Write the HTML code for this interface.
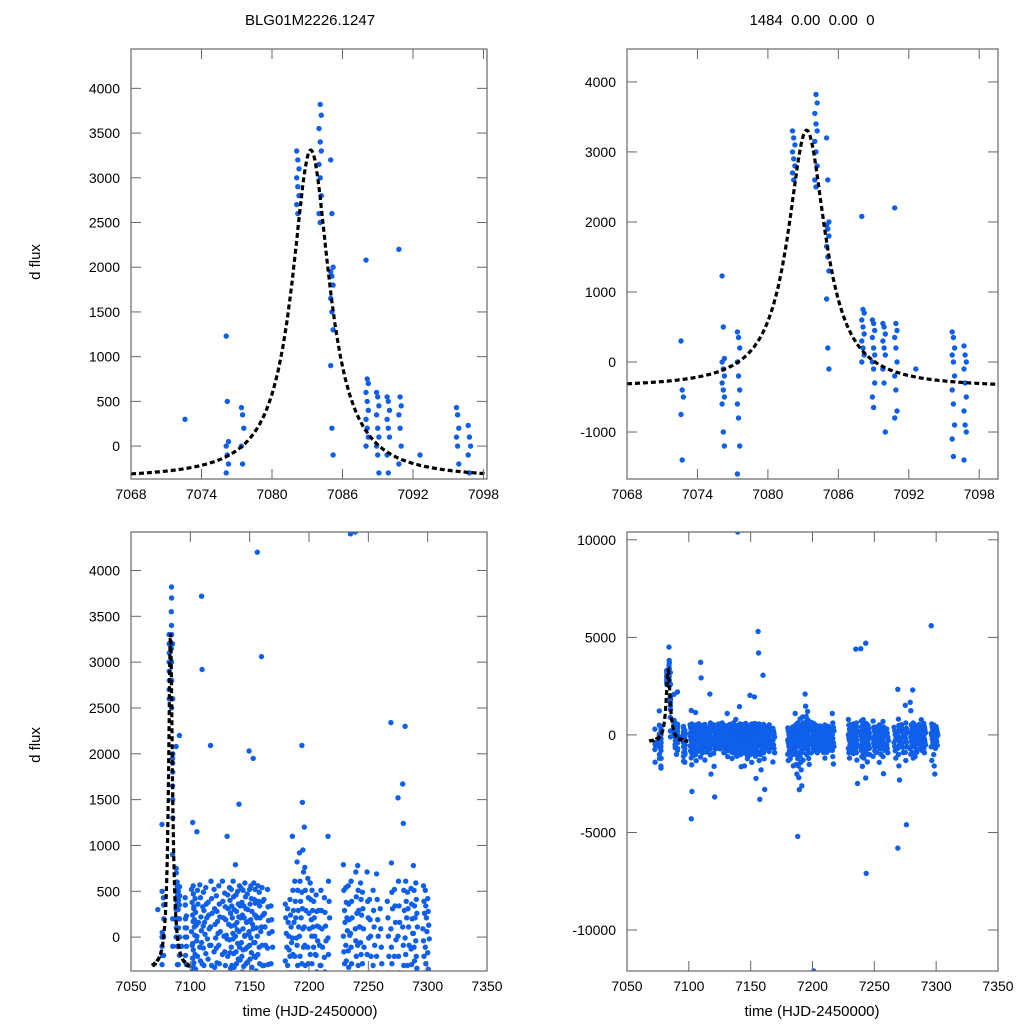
<!DOCTYPE html>
<html><head><meta charset="utf-8"><style>
html,body{margin:0;padding:0;background:#fff;overflow:hidden;width:1024px;height:1024px;}
svg{display:block;font-family:"Liberation Sans",sans-serif;}
</style></head><body>
<svg id="chart" width="1024" height="1024" viewBox="0 0 1024 1024" xmlns="http://www.w3.org/2000/svg">
<rect width="1024" height="1024" fill="#fff"/>
<text x="310" y="25" font-size="15" text-anchor="middle">BLG01M2226.1247</text>
<text x="812" y="25" font-size="15" text-anchor="middle" xml:space="preserve">1484  0.00  0.00  0</text>
<text x="0" y="0" font-size="15" text-anchor="middle" transform="translate(40,262) rotate(-90)">d flux</text>
<text x="0" y="0" font-size="15" text-anchor="middle" transform="translate(40,745) rotate(-90)">d flux</text>
<text x="310" y="1016" font-size="15" text-anchor="middle">time (HJD-2450000)</text>
<text x="812" y="1016" font-size="15" text-anchor="middle">time (HJD-2450000)</text>
</svg>
<script>
// ---- data: nightly clusters (time, fluxes) ----
const nightTimes = [7072.6,7076.1,7077.4,7082.1,7084.0,7085.0,7088.0,7088.9,7089.8,7090.8,7092.6,7095.7,7096.7,
 7101,7102.5,7102,7104,7105.5,7108,7109.5,7111,7113,7115,7117,7120,7122,7124,7127,7129,7131,7133,7134.5,7136,7138,7139.5,7141,7143,7144.5,7146,7148,7149.5,7151,7153,7154.5,7156,7158,7160,7162,7165,7168,
 7180,7182,7184,7186,7188,7190,7192,7194,7196,7199,7201,7202.5,7204,7206,7208,7210,7213,7216,
 7229,7231,7233,7235,7239,7241,7243,7245,7249,7251,7254,7257,7260,7266,7269,7272,7275,7279,7281,7283,7286,7288,7290,7296,7298,7300,7304,7306,7308];
const nightFlux = [
 [300,-400,-500,-750,-1400],
 [1230,500,50,0,-100,-200,-300,-400,-500,-600,-1000,-1200],
 [430,350,200,0,-200,-400,-600,-800,-1200,-1600,-1700],
 [3300,3200,3100,3000,2900,2800,2700,2600],
 [4500,3820,3700,3550,3400,3300,3150,3000,2800,2600,2500],
 [3200,2600,2000,1950,1900,1800,1650,1500,1300,900,200,-100],
 [2080,750,700,600,500,400,300,200,100,0],
 [600,550,450,350,200,100,0,-100,-300,-500,-650],
 [550,500,400,300,200,100,-100,-300,-1000],
 [2200,550,450,350,200,0,-200,-400,-700,-800],
 [-100],
 [430,350,200,100,0,-200,-400,-600,-900,-1100,-1350],
 [230,100,0,-100,-300,-500,-700,-900,-1000,-1400],
 [520,380,240,170,60,-90,-230,-370,-560,-820,-1180,-1530],
 [470,310,190,20,-140,-280,-460,-690,-940],
 [1250,560,330,110,-70,-320,-610,-830,-4300,-2900],
 [420,270,130,-40,-190,-350,-520,-760,-1050],
 [1150,510,360,160,10,-210,-410,-700,-1010,-1320],
 [570,430,220,70,-110,-260,-430,-620,-830],
 [3720,2920,330,120,-60,-290,-480,-720,-1130],
 [490,290,160,30,-120,-310,-470,-650,-910],
 [540,360,210,-20,-180,-390,-610,-880,-1290],
 [380,240,90,-90,-240,-410,-590,-760],
 [2090,610,420,260,110,-90,-310,-520,-730,-1020,-2010],
 [520,310,140,-10,-160,-330,-510,-720,-940,-1610,-3180],
 [450,280,170,40,-120,-280,-470,-680],
 [560,360,220,60,-90,-290,-490,-710],
 [610,390,210,10,-190,-420,-630,-910],
 [480,330,190,20,-160,-310,-520,-730,-890],
 [1100,460,310,140,-20,-210,-420,-620,-810,-1110],
 [540,400,260,120,-30,-170,-340,-560,-760],
 [520,340,210,40,-110,-310,-520,-690,-880,-1210],
 [610,440,300,130,-20,-180,-330,-490,-710,-930],
 [790,460,280,160,10,-160,-290,-510,-720,-910,-1090],
 [10400,500,360,220,80,-70,-240,-400,-580,-760,-980],
 [1450,560,340,210,60,-110,-250,-410,-590,-790,-1010,-1630],
 [530,380,240,90,-60,-210,-380,-560,-740,-930],
 [510,340,210,10,-140,-320,-490,-710,-900,-1590],
 [590,440,310,160,20,-130,-290,-460,-610,-790,-1010,-1220],
 [470,300,170,30,-110,-270,-430,-600,-820,-1060],
 [2030,520,360,190,60,-90,-240,-390,-610,-810,-990,-1410],
 [560,420,280,140,-10,-170,-330,-480,-660,-860],
 [1950,590,410,240,90,-60,-210,-390,-610,-790,-1090,-2230],
 [520,370,230,100,-60,-220,-370,-540,-720,-1010],
 [5300,4200,560,390,210,10,-190,-410,-590,-880,-1310,-3300],
 [490,340,210,60,-110,-290,-490,-720,-1010,-1790],
 [3060,540,390,240,110,-90,-310,-520,-690,-910,-1220,-2800],
 [410,260,110,-90,-310,-490,-710],
 [520,330,180,40,-120,-300,-480,-650,-850],
 [340,190,60,-110,-290,-510,-690,-910,-1390],
 [360,210,40,-110,-260,-410,-590,-810,-990,-1310],
 [310,160,10,-140,-310,-490,-710,-890,-1220],
 [410,240,110,-60,-210,-390,-610,-790,-1010,-1590],
 [1100,510,290,160,-10,-190,-410,-590,-810,-990,-1510,-2010],
 [610,390,210,-10,-210,-390,-610,-910,-1210,-1590,-2190,-2810,-5200],
 [820,510,290,110,-90,-310,-490,-790,-1110,-1410,-1790,-2610],
 [920,610,390,210,10,-210,-390,-610,-890,-1290],
 [2090,1470,950,710,490,310,90,-110,-290,-510,-690,-1010],
 [1200,760,510,290,110,-90,-310,-490,-710,-890,-1210,-1510],
 [640,430,260,90,-110,-290,-460,-680,-920],
 [590,410,190,10,-190,-410,-590,-810,-12100],
 [510,290,110,-110,-290,-510,-690,-910],
 [390,210,10,-190,-410,-590,-810],
 [460,280,120,-40,-200,-380,-560,-760],
 [290,110,-90,-310,-490,-710,-890],
 [510,290,90,-110,-310,-490,-710,-890,-1190],
 [430,270,120,-40,-220,-380,-570,-780],
 [1100,610,390,210,-10,-190,-410,-590,-790,-1110,-1490],
 [790,510,290,160,10,-160,-290,-510,-690,-910,-1190],
 [540,380,210,70,-90,-260,-440,-620,-860],
 [560,360,190,20,-150,-330,-520,-700,-950],
 [4400,610,390,210,40,-110,-290,-510,-690,-910,-1290,-2490],
 [4420,710,440,260,90,-40,-210,-390,-610,-790,-1110,-1610],
 [780,510,290,110,-90,-310,-490,-710,-910,-1190],
 [4700,590,410,240,110,-60,-190,-410,-590,-810,-990,-1390,-2210,-7100],
 [490,310,90,-110,-290,-510,-690,-1010],
 [710,390,210,-10,-190,-410,-590,-810,-1090],
 [410,190,10,-210,-390,-610,-890],
 [510,290,110,-90,-310,-490,-710,-990,-1410],
 [690,410,190,10,-210,-390,-610,-790,-1110,-1990],
 [310,90,-110,-290,-510,-690,-910],
 [390,210,10,-210,-390,-590,-810,-1190],
 [2340,810,490,310,90,-110,-290,-510,-690,-1010,-1590,-2310,-5800],
 [520,340,160,-30,-210,-420,-640,-900],
 [1520,610,340,160,10,-210,-390,-610,-890,-1310,-4600],
 [1670,1240,510,290,110,-90,-310,-490,-710,-990],
 [2300,610,390,210,-10,-190,-410,-590,-910,-1190],
 [490,310,110,-90,-310,-490,-710,-890,-1110],
 [530,360,200,40,-130,-300,-480,-690],
 [780,510,340,210,40,-110,-260,-390,-610,-790],
 [590,410,260,110,-40,-210,-340,-510,-690,-910],
 [5600,560,390,260,90,-40,-210,-390,-610,-1310],
 [510,340,210,60,-110,-290,-510,-690,-1010,-1590,-2010],
 [420,280,130,-20,-170,-350,-540]
];
// model: baseline, amplitude, t0, width
const modelParams = [-370, 3680, 7083.3, 1.95];
const modelRange = [7068, 7099.6];

const panels = [
 {name:'top-left',  x0:131,x1:487,y0:49,y1:479, tx:[7068,7098.3], ty:[-368,4440], xt:[7068,7074,7080,7086,7092,7098], yt:[0,500,1000,1500,2000,2500,3000,3500,4000]},
 {name:'top-right', x0:627,x1:998,y0:49,y1:479, tx:[7068,7099.6], ty:[-1671,4470], xt:[7068,7074,7080,7086,7092,7098], yt:[-1000,0,1000,2000,3000,4000]},
 {name:'bottom-left', x0:131,x1:487,y0:532,y1:971, tx:[7050,7350], ty:[-370,4420], xt:[7050,7100,7150,7200,7250,7300,7350], yt:[0,500,1000,1500,2000,2500,3000,3500,4000]},
 {name:'bottom-right',x0:627,x1:998,y0:532,y1:971, tx:[7050,7350], ty:[-12100,10400], xt:[7050,7100,7150,7200,7250,7300,7350], yt:[-10000,-5000,0,5000,10000]}
];
const NS='http://www.w3.org/2000/svg';
const svg=document.getElementById('chart');
function mk(tag,attrs,parent){const e=document.createElementNS(NS,tag);for(const k in attrs)e.setAttribute(k,attrs[k]);(parent||svg).appendChild(e);return e;}
function model(t){const p=modelParams;const u=(t-p[2])/p[3];return p[0]+p[1]/(1+u*u);}

panels.forEach((P,pi)=>{
 const sx=t=>P.x0+(t-P.tx[0])/(P.tx[1]-P.tx[0])*(P.x1-P.x0);
 const sy=v=>P.y1-(v-P.ty[0])/(P.ty[1]-P.ty[0])*(P.y1-P.y0);
 const g=mk('g',{});
 
 
 const cp=mk('clipPath',{id:'cp'+pi},g);
 mk('rect',{x:P.x0,y:P.y0,width:P.x1-P.x0,height:P.y1-P.y0},cp);
 const pts=mk('g',{'clip-path':'url(#cp'+pi+')',fill:'#0f5fea'},g);
 
 
 const r = 2.7;
 nightTimes.forEach((t,ni)=>{
  const vals=nightFlux[ni];
  if(!vals)return;
  vals.forEach((v,k)=>{
   const tt=t+(ni<13 ? (k%3)*0.1 : (k%4)*0.45);
   if(tt<P.tx[0]||tt>P.tx[1])return;
   const c=mk('circle',{cx:sx(tt).toFixed(1),cy:sy(v).toFixed(1),r:r},pts);
   
   
  });
 });
 let d='';
 for(let t=modelRange[0];t<=modelRange[1];t+=0.05){d+=(d?'L':'M')+sx(t).toFixed(1)+','+sy(model(t)).toFixed(1);}
 const path=mk('path',{d:d,fill:'none',stroke:'#000','stroke-width':3.2,'stroke-dasharray':'5,3','clip-path':'url(#cp'+pi+')'},g);
 
 
 const fr=mk('rect',{x:P.x0,y:P.y0,width:P.x1-P.x0,height:P.y1-P.y0,fill:'none',stroke:'#666','stroke-width':1.2},g);
 
 
 P.xt.forEach(t=>{const x=sx(t);
  mk('line',{x1:x,x2:x,y1:P.y1,y2:P.y1-10,stroke:'#666','stroke-width':1},g);
  mk('line',{x1:x,x2:x,y1:P.y0,y2:P.y0+10,stroke:'#666','stroke-width':1},g);
  const tx=mk('text',{x:x,y:P.y1+20,'font-size':14,'text-anchor':'middle'},g);tx.textContent=t;
  
  
 });
 P.yt.forEach(v=>{const y=sy(v);
  mk('line',{x1:P.x0,x2:P.x0+10,y1:y,y2:y,stroke:'#666','stroke-width':1},g);
  mk('line',{x1:P.x1,x2:P.x1-10,y1:y,y2:y,stroke:'#666','stroke-width':1},g);
  const tx=mk('text',{x:P.x0-11,y:y+5,'font-size':14,'text-anchor':'end'},g);tx.textContent=v;
  
  
 });
});
</script>
</body></html>
